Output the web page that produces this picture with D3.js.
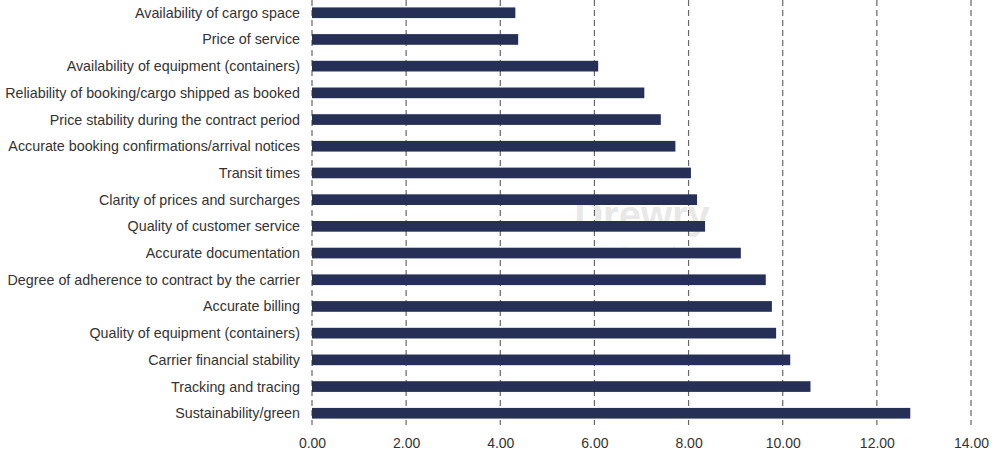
<!DOCTYPE html>
<html>
<head>
<meta charset="utf-8">
<script src="https://cdn.jsdelivr.net/npm/d3@7"></script>
<style>
  body { margin: 0; background: #fff; }
  svg { display: block; }
</style>
</head>
<body>
<div id="chart"></div>
<script>
// categories, top to bottom
const factors = [
    "Availability of cargo space",
    "Price of service",
    "Availability of equipment (containers)",
    "Reliability of booking/cargo shipped as booked",
    "Price stability during the contract period",
    "Accurate booking confirmations/arrival notices",
    "Transit times",
    "Clarity of prices and surcharges",
    "Quality of customer service",
    "Accurate documentation",
    "Degree of adherence to contract by the carrier",
    "Accurate billing",
    "Quality of equipment (containers)",
    "Carrier financial stability",
    "Tracking and tracing",
    "Sustainability/green"
];
const scores = [4.32, 4.38, 6.08, 7.06, 7.41, 7.72, 8.05, 8.18, 8.35, 9.11, 9.64, 9.77, 9.86, 10.16, 10.59, 12.71];
const xTicks = [0, 2, 4, 6, 8, 10, 12, 14];

const width = 1000, height = 459;
const margin = {left: 312, right: 29, top: 0, bottom: 32};
const font = "Liberation Sans, Arial, sans-serif";

const svg = d3.select("#chart").append("svg")
    .attr("width", width)
    .attr("height", height);

const x = d3.scaleLinear()
    .domain([0, 14])
    .range([margin.left, width - margin.right]);

const y = d3.scaleBand()
    .domain(factors)
    .range([-0.6, 426.6])
    .paddingInner(0.6)
    .paddingOuter(0.3);

// watermark
const wm = svg.append("g").attr("opacity", 0.13);
wm.append("text")
    .attr("x", 642).attr("y", 229)
    .attr("text-anchor", "middle")
    .attr("font-family", font)
    .attr("font-size", "40px")
    .attr("font-weight", "bold")
    .attr("fill", "#555")
    .text("Drewry");
wm.append("text")
    .attr("x", 642).attr("y", 253)
    .attr("text-anchor", "middle")
    .attr("font-family", font)
    .attr("font-size", "9px")
    .attr("fill", "#555")
    .text("maritime research");

// dashed grid lines
svg.append("g")
    .selectAll("line")
    .data(xTicks)
    .join("line")
    .attr("x1", d => x(d)).attr("x2", d => x(d))
    .attr("y1", 0).attr("y2", 425)
    .attr("stroke", "#666")
    .attr("stroke-width", 1.2)
    .attr("stroke-dasharray", "6,4");

// bars
svg.append("g")
    .selectAll("rect")
    .data(factors)
    .join("rect")
    .attr("x", x(0))
    .attr("y", d => y(d))
    .attr("width", (d, i) => x(scores[i]) - x(0))
    .attr("height", y.bandwidth())
    .attr("fill", "#263056");

// category labels
svg.append("g")
    .selectAll("text")
    .data(factors)
    .join("text")
    .attr("x", 300)
    .attr("y", d => y(d) + y.bandwidth() / 2)
    .attr("dy", "0.35em")
    .attr("text-anchor", "end")
    .attr("font-family", font)
    .attr("font-size", "14.3px")
    .attr("fill", "#333")
    .text(d => d);

// x axis tick labels
const xAxis = d3.axisBottom(x)
    .tickValues(xTicks)
    .tickFormat(d3.format(".2f"))
    .tickSize(0)
    .tickPadding(0);

const gx = svg.append("g")
    .attr("transform", "translate(0,438)")
    .call(xAxis);
gx.select(".domain").remove();
gx.selectAll("text")
    .attr("font-family", font)
    .attr("font-size", "14px")
    .attr("fill", "#333");
</script>
</body>
</html>
